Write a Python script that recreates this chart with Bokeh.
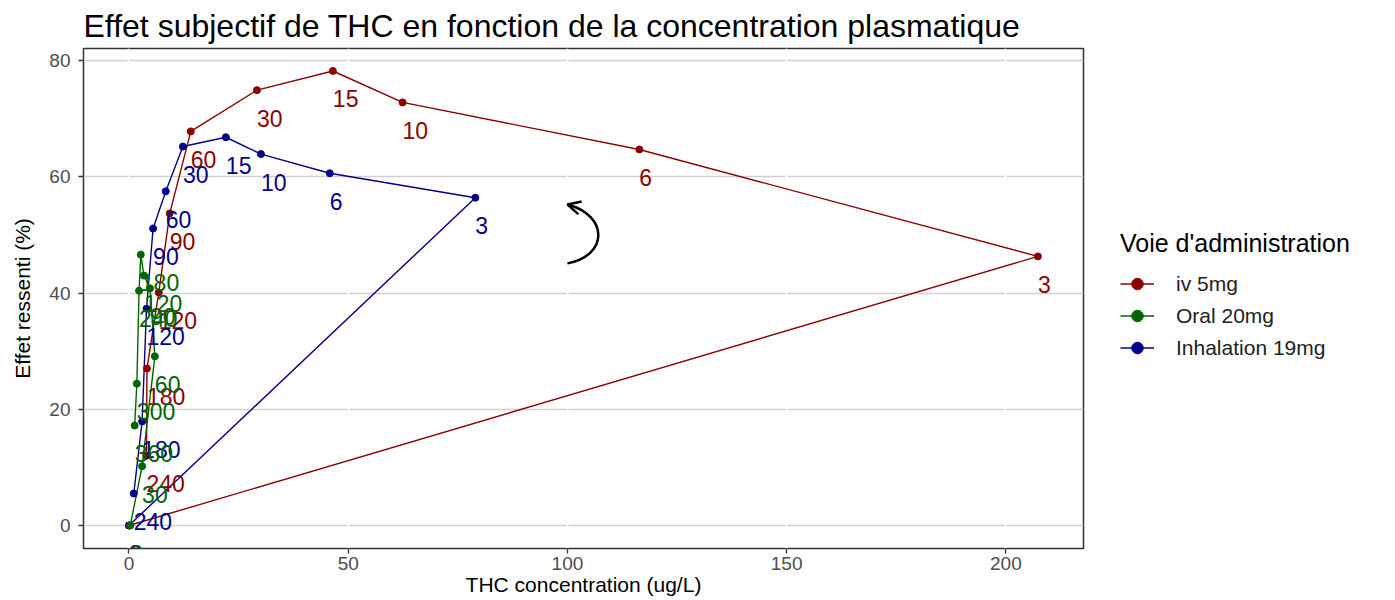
from bokeh.plotting import figure
from bokeh.layouts import row
from bokeh.models import (ColumnDataSource, Legend, LegendItem, FixedTicker,
                          Range1d, Arrow, OpenHead)
from bokeh.core.properties import value
from bokeh.embed import file_html
from bokeh.resources import INLINE

# ---------------- data ----------------
iv_time = [0, 3, 6, 10, 15, 30, 60, 90, 120, 180, 240]
iv_conc = [0.0, 207.3, 116.4, 62.4, 46.5, 29.2, 14.1, 9.3, 6.8, 4.1, 4.0]
iv_effect = [0.0, 46.3, 64.7, 72.8, 78.2, 74.9, 67.8, 53.7, 40.1, 27.0, 12.0]

inh_time = [0, 3, 6, 10, 15, 30, 60, 90, 120, 180, 240]
inh_conc = [0.0, 79.0, 45.8, 30.1, 22.1, 12.3, 8.4, 5.5, 4.0, 3.0, 1.1]
inh_effect = [0.0, 56.4, 60.6, 63.9, 66.8, 65.2, 57.5, 51.1, 37.3, 17.9, 5.5]

oral_time = [0, 30, 60, 90, 120, 180, 240, 300, 360]
oral_conc = [0.3, 3.0, 5.9, 4.8, 3.4, 2.7, 2.3, 1.8, 1.3]
oral_effect = [0.0, 10.2, 29.1, 40.8, 43.0, 46.6, 40.4, 24.4, 17.2]

series_names = ["iv 5mg", "Oral 20mg", "Inhalation 19mg"]
series_colors = ["#8B0000", "#006400", "#00008B"]

x_ticks = [0, 50, 100, 150, 200]
y_ticks = [0, 20, 40, 60, 80]

TITLE = "Effet subjectif de THC en fonction de la concentration plasmatique"
X_LABEL = "THC concentration (ug/L)"
Y_LABEL = "Effet ressenti (%)"
LEGEND_TITLE = "Voie d'administration"

# curved arrow annotation (data units)
ARROW_START = (100.0, 45.1)
ARROW_C0 = (109.4, 46.45)
ARROW_C1 = (109.4, 53.34)
ARROW_END = (100.0, 55.23)

FONT = "Liberation Sans"
H = 598

# ---------------- main figure ----------------
p = figure(width=1085, height=H,
           x_range=Range1d(-10.37, 217.7), y_range=Range1d(-3.96, 82.07),
           output_backend="svg", toolbar_location=None,
           min_border_left=83, min_border_top=48, min_border_bottom=50,
           min_border_right=2,
           background_fill_color="white", border_fill_color="white")

p.title.text = TITLE
p.title.text_font = FONT
p.title.text_font_size = "32px"
p.title.text_font_style = "normal"
p.title.text_color = "black"
p.title.align = "left"
p.title.standoff = 10

p.outline_line_color = "#333333"
p.outline_line_width = 1.5

for ax in (p.xaxis[0], p.yaxis[0]):
    ax.axis_line_color = None
    ax.major_tick_line_color = "#333333"
    ax.major_tick_line_width = 1.3
    ax.major_tick_out = 5
    ax.major_tick_in = 0
    ax.minor_tick_line_color = None
    ax.major_label_text_font = FONT
    ax.major_label_text_font_size = "19px"
    ax.major_label_text_color = "#4D4D4D"
    ax.axis_label_text_font = FONT
    ax.axis_label_text_font_size = "21px"
    ax.axis_label_text_font_style = "normal"
    ax.axis_label_text_color = "black"

p.xaxis.ticker = FixedTicker(ticks=x_ticks)
p.yaxis.ticker = FixedTicker(ticks=y_ticks)
p.xaxis.axis_label = X_LABEL
p.yaxis.axis_label = Y_LABEL
p.xaxis.major_label_standoff = 3
p.xaxis.axis_label_standoff = 0
p.yaxis.major_label_standoff = 8
p.yaxis.axis_label_standoff = 12

p.ygrid.grid_line_color = "#D0D0D0"
p.ygrid.grid_line_width = 1.5
p.xgrid.grid_line_color = "white"
p.xgrid.grid_line_width = 2
p.xgrid.ticker = FixedTicker(ticks=x_ticks)
p.ygrid.ticker = FixedTicker(ticks=y_ticks)
p.center = p.center[::-1]

sources = []
for t, c, e in ((iv_time, iv_conc, iv_effect),
                (oral_time, oral_conc, oral_effect),
                (inh_time, inh_conc, inh_effect)):
    sources.append(ColumnDataSource(dict(x=c, y=e, label=[str(v) for v in t])))

draw_order = [0, 2, 1]  # iv, inhalation, oral
for i in draw_order:
    p.line("x", "y", source=sources[i], line_color=series_colors[i], line_width=1.4)
for i in draw_order:
    p.scatter("x", "y", source=sources[i], marker="circle", size=7,
              fill_color=series_colors[i], line_color=series_colors[i])
for i in draw_order:
    p.text("x", "y", text="label", source=sources[i], text_color=series_colors[i],
           text_font=value(FONT), text_font_size="23px", text_align="left",
           text_baseline="middle", y_offset=28)

# curved arrow
p.bezier(x0=[ARROW_START[0]], y0=[ARROW_START[1]], x1=[ARROW_END[0]], y1=[ARROW_END[1]],
         cx0=[ARROW_C0[0]], cy0=[ARROW_C0[1]], cx1=[ARROW_C1[0]], cy1=[ARROW_C1[1]],
         line_color="black", line_width=2.5)
dx = ARROW_END[0] - ARROW_C1[0]
dy = ARROW_END[1] - ARROW_C1[1]
p.add_layout(Arrow(end=OpenHead(size=13, line_width=2.5, line_color="black"),
                   x_start=ARROW_END[0] - 0.12 * dx, y_start=ARROW_END[1] - 0.12 * dy,
                   x_end=ARROW_END[0], y_end=ARROW_END[1],
                   line_color="black", line_width=2.5))

# ---------------- legend panel ----------------
lg = figure(width=305, height=H, x_range=Range1d(0, 1), y_range=Range1d(0, 1),
            output_backend="svg", toolbar_location=None,
            x_axis_location=None, y_axis_location=None, min_border=0,
            background_fill_color="white", border_fill_color="white")
lg.outline_line_color = None
lg.grid.visible = False

# legend-only renderers (placed outside the visible range of this panel)
items = []
for i in range(3):
    ks = ColumnDataSource(dict(x=[-5.0, -4.0], y=[-5.0, -4.0]))
    lr = lg.line("x", "y", source=ks, line_color=series_colors[i], line_width=1.4)
    sr = lg.scatter("x", "y", source=ks, marker="circle", size=7,
                    fill_color=series_colors[i], line_color=series_colors[i])
    items.append(LegendItem(label=series_names[i], renderers=[lr, sr], index=0))

legend = Legend(items=items, title=LEGEND_TITLE, location=(35, 186))
legend.title_text_font = FONT
legend.title_text_font_size = "25px"
legend.title_text_font_style = "normal"
legend.title_text_color = "black"
legend.title_standoff = 11
legend.label_text_font = FONT
legend.label_text_font_size = "21px"
legend.label_text_color = "#222222"
legend.glyph_width = 34
legend.glyph_height = 29
legend.label_height = 29
legend.label_standoff = 22
legend.spacing = 3
legend.padding = 10
legend.margin = 0
legend.border_line_color = None
legend.background_fill_alpha = 0
lg.add_layout(legend)

open("out.html", "w").write(file_html(row(p, lg), INLINE))
